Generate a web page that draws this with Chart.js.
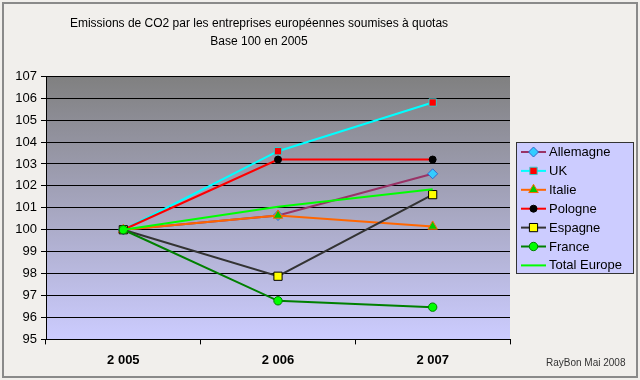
<!DOCTYPE html>
<html><head><meta charset="utf-8">
<script src="https://cdn.jsdelivr.net/npm/chart.js@4"></script>
<style>html,body{margin:0;padding:0;background:#f1efec;}#wrap{width:640px;height:380px;position:relative;}</style>
</head><body><div id="wrap"><canvas id="c" width="640" height="380"></canvas></div>
<script>
const categories = ['2 005', '2 006', '2 007'];
const allemagne = [100, 100.65, 102.55];
const uk = [100, 103.58, 105.8];
const italie = [100, 100.65, 100.15];
const pologne = [100, 103.2, 103.2];
const espagne = [100, 97.88, 101.6];
const france = [100, 96.76, 96.47];
const totalEurope = [100, 101.05, 101.85];
const yTicks = [95, 96, 97, 98, 99, 100, 101, 102, 103, 104, 105, 106, 107];
const titleLines = ['Emissions de CO2 par les entreprises européennes soumises à quotas', 'Base 100 en 2005'];
const footer = 'RayBon Mai 2008';

const FONT = '"Liberation Sans", Arial, sans-serif';

const bgPlugin = {
  id: 'bg',
  beforeDraw(chart) {
    const ctx = chart.ctx;
    ctx.save();
    ctx.fillStyle = '#f1efec';
    ctx.fillRect(0, 0, chart.width, chart.height);
    const a = chart.chartArea;
    const g = ctx.createLinearGradient(0, a.top, 0, a.bottom);
    g.addColorStop(0, '#808080');
    g.addColorStop(1, '#ccccff');
    ctx.fillStyle = g;
    ctx.fillRect(a.left, a.top, a.right - a.left, a.bottom - a.top);
    ctx.restore();
  },
  afterDraw(chart) {
    const ctx = chart.ctx;
    ctx.save();
    ctx.strokeStyle = '#8a8a8a';
    ctx.lineWidth = 2;
    ctx.strokeRect(3, 3, chart.width - 6, chart.height - 6);
    const lx = 516, ly = 142, lw = 117, lh = 131;
    ctx.fillStyle = '#ccccff';
    ctx.fillRect(lx, ly, lw, lh);
    ctx.strokeStyle = '#333';
    ctx.lineWidth = 1;
    ctx.strokeRect(lx + 0.5, ly + 0.5, lw, lh);
    chart.data.datasets.forEach((ds, i) => {
      const y = 152 + i * 18.9;
      ctx.strokeStyle = ds.borderColor;
      ctx.lineWidth = 2;
      ctx.beginPath(); ctx.moveTo(521, y); ctx.lineTo(546, y); ctx.stroke();
      if (ds.pointRadius > 0) {
        ctx.fillStyle = ds.pointBackgroundColor;
        ctx.strokeStyle = ds.pointBorderColor;
        ctx.lineWidth = 1;
        Chart.helpers.drawPoint(ctx, {pointStyle: ds.pointStyle, radius: ds.pointRadius, rotation: 0, borderWidth: 1}, 533.5, y);
      }
      ctx.fillStyle = '#000';
      ctx.font = '13px ' + FONT;
      ctx.textBaseline = 'middle';
      ctx.textAlign = 'left';
      ctx.fillText(ds.label, 549, y + 0.5);
    });
    ctx.fillStyle = '#333';
    ctx.font = '10px ' + FONT;
    ctx.textAlign = 'left';
    ctx.textBaseline = 'middle';
    ctx.fillText(footer, 546, 363);
    ctx.restore();
  }
};

function ds(label, data, line, pStyle, pFill, pBorder, r, order) {
  return { label, data, borderColor: line, backgroundColor: line, borderWidth: 2,
    pointStyle: pStyle, pointRadius: r, pointHoverRadius: r,
    pointBackgroundColor: pFill, pointBorderColor: pBorder, pointBorderWidth: 1,
    tension: 0, fill: false, order };
}

new Chart(document.getElementById('c'), {
  type: 'line',
  data: {
    labels: categories,
    datasets: [
      ds('Allemagne', allemagne, '#993366', 'rectRot', '#33ccff', '#3366cc', 5, 7),
      ds('UK', uk, '#00ffff', 'rect', '#ff0000', '#33cccc', 5.2, 6),
      ds('Italie', italie, '#ff6600', 'triangle', '#00cc00', '#ff6600', 5.5, 5),
      ds('Pologne', pologne, '#ff0000', 'circle', '#000000', '#000000', 3.5, 4),
      ds('Espagne', espagne, '#333333', 'rect', '#ffff00', '#000000', 5.8, 3),
      ds('France', france, '#008000', 'circle', '#00ff00', '#008000', 4.2, 2),
      ds('Total Europe', totalEurope, '#00ff00', 'circle', '#00ff00', '#00ff00', 0, 1)
    ]
  },
  options: {
    responsive: false,
    animation: false,
    devicePixelRatio: 1,
    layout: { padding: { left: 8, right: 130, top: 9, bottom: 4 } },
    plugins: {
      legend: { display: false },
      tooltip: { enabled: false },
      title: { display: true, text: titleLines, color: '#000',
        font: { family: FONT, size: 12, weight: 'normal', lineHeight: 1.55 },
        padding: { top: 5, bottom: 25 } }
    },
    scales: {
      x: {
        offset: true,
        grid: { display: true, offset: true, drawOnChartArea: false, drawTicks: true, tickLength: 5, color: '#000' },
        border: { display: true, color: '#000' },
        ticks: { color: '#000', padding: 8, font: { family: FONT, size: 13, weight: 'bold' } }
      },
      y: {
        min: 95, max: 107,
        afterBuildTicks(scale) { scale.ticks = yTicks.map(v => ({ value: v })); },
        afterFit(scale) { scale.width = 38; },
        grid: { color: '#000', lineWidth: 1, tickLength: 5 },
        border: { display: true, color: '#000' },
        ticks: { color: '#000', padding: 4, font: { family: FONT, size: 13 } }
      }
    }
  },
  plugins: [bgPlugin]
});
</script>
</body></html>
